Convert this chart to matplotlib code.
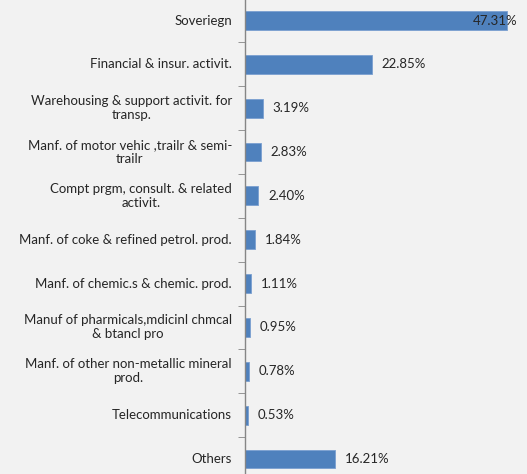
import matplotlib.pyplot as plt
import numpy as np

sectors = ["Soveriegn",
           "Financial & insur. activit.",
           "Warehousing & support activit. for\ntransp.",
           "Manf. of motor vehic ,trailr & semi-\ntrailr",
           "Compt prgm, consult. & related\nactivit.",
           "Manf. of coke & refined petrol. prod.",
           "Manf. of chemic.s & chemic. prod.",
           "Manuf of pharmicals,mdicinl chmcal\n& btancl pro",
           "Manf. of other non-metallic mineral\nprod.",
           "Telecommunications",
           "Others"]
shares = [47.31, 22.85, 3.19, 2.83, 2.40, 1.84, 1.11, 0.95, 0.78, 0.53, 16.21]

bg = "#f2f2f2"
txt = "#262626"
plt.rcParams["font.family"] = ["Lato", "DejaVu Sans"]
fs = 9.5

fig = plt.figure(figsize=(5.27, 4.74), dpi=100, facecolor=bg)
ax = fig.add_axes([245/527, -6.9/474, 277/527, 482.3/474], facecolor=bg)

y = np.arange(len(sectors))
ax.barh(y, shares, height=0.43, color="#4f81bd", edgecolor="#7a9fd0", linewidth=0.6)
ax.set_ylim(len(sectors) - 0.5, -0.5)
ax.set_xlim(0, 50)

# category ticks sit between the bars, names drawn as centred blocks
ax.set_yticks([])
ax.set_yticks(np.arange(len(sectors) + 1) - 0.5, minor=True)
ax.tick_params(axis="y", which="minor", length=5, color="#868686", direction="out")
ax.set_xticks([])
for yi, name in zip(y, sectors):
    ax.annotate(name, (0, yi), xycoords=("axes fraction", "data"),
                xytext=(-9.4, 0), textcoords="offset points",
                ha="right", va="center", multialignment="center",
                fontsize=fs, color=txt)

for s in ["top", "right", "bottom"]:
    ax.spines[s].set_visible(False)
ax.spines["left"].set_color("#868686")
ax.spines["left"].set_linewidth(1)

xmax = ax.get_xlim()[1]
for yi, v in zip(y, shares):
    lab = f"{v:.2f}%"
    if v > 0.85 * xmax:
        ax.annotate(lab, (xmax, yi), xytext=(-3, 0), textcoords="offset points",
                    ha="right", va="center", fontsize=fs, color=txt)
    else:
        ax.annotate(lab, (v, yi), xytext=(7, 0), textcoords="offset points",
                    ha="left", va="center", fontsize=fs, color=txt)

fig.savefig("out.png", dpi=100, facecolor=bg)
